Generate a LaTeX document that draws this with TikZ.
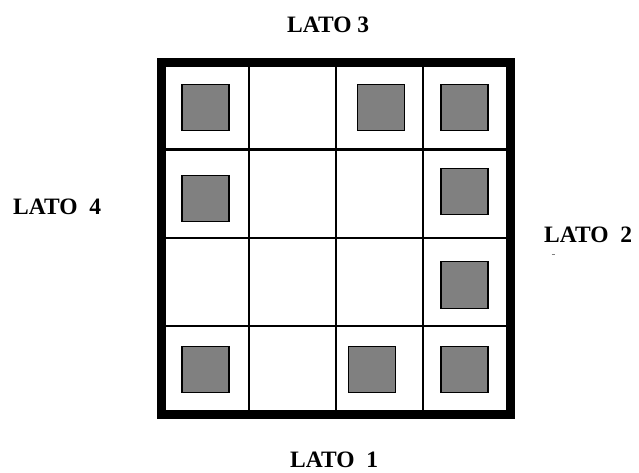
\documentclass[tikz,border=0pt]{standalone}
\usepackage{fontspec}
\setmainfont{Liberation Serif}
\begin{document}
\begin{tikzpicture}[x=1pt,y=-1pt,
  cellsq/.style={draw=black,line width=1.3pt,fill={rgb,255:red,128;green,128;blue,128},minimum width=47pt,minimum height=46.5pt,inner sep=0pt},
  side/.style={anchor=base west,inner sep=0pt,font=\fontsize{23.5}{27}\selectfont\bfseries},
  gridline/.style={line width=2.2pt}]
\useasboundingbox (0,0) rectangle (639,472);
% grid
\draw[gridline] (249,62) -- (249,414.5);
\draw[gridline] (336,62) -- (336,414.5);
\draw[gridline] (423,62) -- (423,414.5);
\draw[gridline] (161.5,149.5) -- (510.5,149.5);
\draw[gridline] (161.5,238) -- (510.5,238);
\draw[gridline] (161.5,326) -- (510.5,326);
\draw[line width=9pt] (161.5,62) rectangle (510.5,414.5);
% squares
\node[cellsq] (s11) at (205.5,107.5) {};
\node[cellsq] (s13) at (381,107.5) {};
\node[cellsq] (s14) at (464.5,107.5) {};
\node[cellsq] (s21) at (205.5,198.5) {};
\node[cellsq] (s24) at (464.5,191.5) {};
\node[cellsq] (s34) at (464.5,285) {};
\node[cellsq] (s41) at (205.5,369.5) {};
\node[cellsq] (s43) at (372,369.5) {};
\node[cellsq] (s44) at (464.5,369.5) {};
% labels
\node[side] (l3) at (287,32) {LATO 3};
\node[side] (l4) at (13,214) {LATO\hspace{0.25em} 4};
\node[side] (l2) at (544,242) {LATO\hspace{0.25em} 2};
\node[side] (l1) at (290,467) {LATO\hspace{0.25em} 1};
\draw[gray,line width=0.8pt] (551.5,254) -- (554.5,254);
\end{tikzpicture}
\end{document}
